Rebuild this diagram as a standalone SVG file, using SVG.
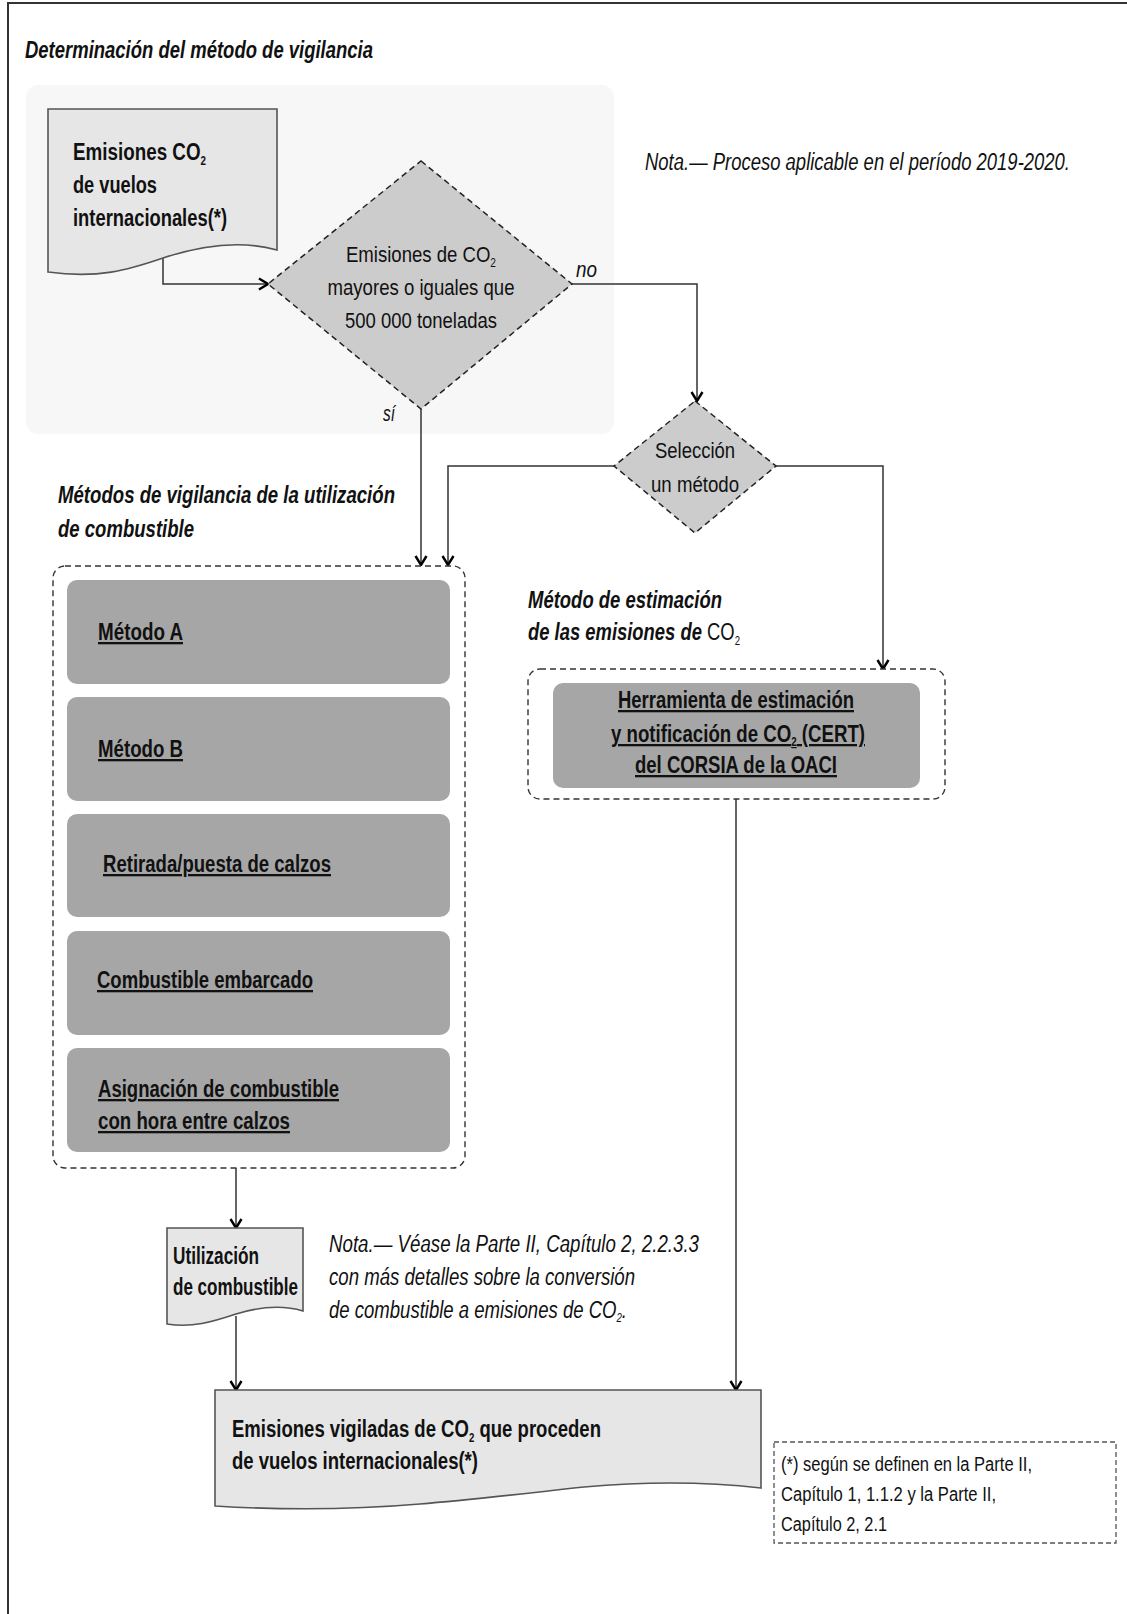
<svg xmlns="http://www.w3.org/2000/svg" width="1127" height="1614" viewBox="0 0 1127 1614">
<style>
text{font-family:"Liberation Sans Narrow","Liberation Sans",Arial,sans-serif;fill:#111;font-size:22px}
.b{font-weight:bold;font-size:23px}
.i{font-style:italic}
.u{text-decoration:underline}
.m{text-anchor:middle}
.t{font-size:23px}
.doc{fill:#e6e6e6;stroke:#555;stroke-width:1.6}
.dia{fill:#cccccc;stroke:#222;stroke-width:1.5;stroke-dasharray:6,4}
.box{fill:#a6a6a6}
.cont{fill:#fff;stroke:#333;stroke-width:1.4;stroke-dasharray:6,4}
.con{fill:none;stroke:#333;stroke-width:1.5;marker-end:url(#arr)}
.fn{font-size:20px}
.sub{font-size:12px}
</style>
<defs>
<marker id="arr" viewBox="-11 -7 13 14" refX="0" refY="0" markerWidth="13" markerHeight="14" markerUnits="userSpaceOnUse" orient="auto">
<path d="M-9,-5.5 L0,0 L-9,5.5" fill="none" stroke="#000" stroke-width="2.4"/>
</marker>
</defs>
<rect x="8" y="3" width="1130" height="1620" fill="#fff" stroke="#333" stroke-width="2"/>
<text class="b i" x="25" y="58" textLength="348" lengthAdjust="spacingAndGlyphs">Determinación del método de vigilancia</text>
<rect id="panel" x="26" y="85" width="588" height="349" rx="12" fill="#f7f7f7"/>
<text class="i t" x="645" y="170" textLength="425" lengthAdjust="spacingAndGlyphs">Nota.— Proceso aplicable en el período 2019-2020.</text>

<g id="connectors">
<path class="con" d="M163,258 V284 H268"/>
<path class="con" d="M572,284 H697 V401"/>
<path class="con" d="M421,409 V565"/>
<path class="con" d="M614,466 H448 V565"/>
<path class="con" d="M776,466 H883 V669"/>
<path class="con" d="M236,1168 V1228"/>
<path class="con" d="M236,1316 V1390"/>
<path class="con" d="M736,799 V1390"/>
</g>

<g id="doc1">
<path class="doc" d="M48,109 H277 V250 C245,241 205,244 163,258 C128,270 98,279 48,272 Z"/>
<text class="b" x="73" y="160" textLength="133" lengthAdjust="spacingAndGlyphs">Emisiones CO<tspan class="sub" dy="5">2</tspan></text>
<text class="b" x="73" y="193" textLength="84" lengthAdjust="spacingAndGlyphs">de vuelos</text>
<text class="b" x="73" y="226" textLength="154" lengthAdjust="spacingAndGlyphs">internacionales(*)</text>
</g>

<g id="diamond1">
<path class="dia" d="M421,161 L572,284 L421,409 L268,284 Z"/>
<text class="m" x="421" y="262" textLength="150" lengthAdjust="spacingAndGlyphs">Emisiones de CO<tspan class="sub" dy="5">2</tspan></text>
<text class="m" x="421" y="295" textLength="187" lengthAdjust="spacingAndGlyphs">mayores o iguales que</text>
<text class="m" x="421" y="328" textLength="152" lengthAdjust="spacingAndGlyphs">500 000 toneladas</text>
</g>
<text class="i" x="576" y="277" textLength="21" lengthAdjust="spacingAndGlyphs">no</text>
<text class="i" x="383" y="421" textLength="12" lengthAdjust="spacingAndGlyphs">sí</text>

<g id="diamond2">
<path class="dia" d="M695,401 L776,466 L695,533 L614,466 Z"/>
<text class="m" x="695" y="458" textLength="80" lengthAdjust="spacingAndGlyphs">Selección</text>
<text class="m" x="695" y="492" textLength="88" lengthAdjust="spacingAndGlyphs">un método</text>
</g>

<text class="b i" x="58" y="503" textLength="337" lengthAdjust="spacingAndGlyphs">Métodos de vigilancia de la utilización</text>
<text class="b i" x="58" y="537" textLength="136" lengthAdjust="spacingAndGlyphs">de combustible</text>

<g id="fuel-methods">
<rect class="cont" x="53" y="566" width="412" height="602" rx="12"/>
<g id="metodoA"><rect class="box" x="67" y="580" width="383" height="104" rx="10"/>
<text class="b u" x="98" y="640" textLength="85" lengthAdjust="spacingAndGlyphs">Método A</text></g>
<g id="metodoB"><rect class="box" x="67" y="697" width="383" height="104" rx="10"/>
<text class="b u" x="98" y="757" textLength="85" lengthAdjust="spacingAndGlyphs">Método B</text></g>
<g id="calzos"><rect class="box" x="67" y="814" width="383" height="103" rx="10"/>
<text class="b u" x="103" y="872" textLength="228" lengthAdjust="spacingAndGlyphs">Retirada/puesta de calzos</text></g>
<g id="embarcado"><rect class="box" x="67" y="931" width="383" height="104" rx="10"/>
<text class="b u" x="97" y="988" textLength="216" lengthAdjust="spacingAndGlyphs">Combustible embarcado</text></g>
<g id="asignacion"><rect class="box" x="67" y="1048" width="383" height="104" rx="10"/>
<text class="b u" x="98" y="1097" textLength="241" lengthAdjust="spacingAndGlyphs">Asignación de combustible</text>
<text class="b u" x="98" y="1129" textLength="192" lengthAdjust="spacingAndGlyphs">con hora entre calzos</text></g>
</g>

<text class="b i" x="528" y="608" textLength="194" lengthAdjust="spacingAndGlyphs">Método de estimación</text>
<text class="b i" x="528" y="640" textLength="212" lengthAdjust="spacingAndGlyphs">de las emisiones de <tspan font-weight="normal" font-style="normal">CO</tspan><tspan class="sub" font-weight="normal" font-style="normal" dy="5">2</tspan></text>

<g id="cert">
<rect class="cont" x="528" y="669" width="417" height="130" rx="12"/>
<rect class="box" x="553" y="683" width="367" height="105" rx="10"/>
<text class="b u m" x="736" y="708" textLength="236" lengthAdjust="spacingAndGlyphs">Herramienta de estimación</text>
<text class="b u m" x="738" y="742" textLength="254" lengthAdjust="spacingAndGlyphs">y notificación de CO<tspan class="sub" dy="4">2</tspan><tspan dy="-4"> (CERT) </tspan></text>
<text class="b u m" x="736" y="773" textLength="202" lengthAdjust="spacingAndGlyphs">del CORSIA de la OACI</text>
</g>

<g id="doc-utilizacion">
<path class="doc" d="M167,1228 H303 V1311 C283,1305 262,1306 236,1314 C212,1322 192,1328 167,1324 Z"/>
<text class="b" x="173" y="1264" textLength="86" lengthAdjust="spacingAndGlyphs">Utilización</text>
<text class="b" x="173" y="1295" textLength="125" lengthAdjust="spacingAndGlyphs">de combustible</text>
</g>

<g id="nota2">
<text class="i t" x="329" y="1252" textLength="370" lengthAdjust="spacingAndGlyphs">Nota.— Véase la Parte II, Capítulo 2, 2.2.3.3</text>
<text class="i t" x="329" y="1285" textLength="306" lengthAdjust="spacingAndGlyphs">con más detalles sobre la conversión</text>
<text class="i t" x="329" y="1318" textLength="298" lengthAdjust="spacingAndGlyphs">de combustible a emisiones de CO<tspan class="sub" dy="4">2</tspan><tspan dy="-4">.</tspan></text>
</g>

<g id="doc-final">
<path class="doc" d="M215,1390 H761 V1488 C700,1481 640,1482 584,1487 C520,1494 470,1500 420,1504 C350,1510 280,1510 215,1506 Z"/>
<text class="b" x="232" y="1437" textLength="369" lengthAdjust="spacingAndGlyphs">Emisiones vigiladas de CO<tspan class="sub" dy="5">2</tspan><tspan dy="-5"> que proceden</tspan></text>
<text class="b" x="232" y="1469" textLength="246" lengthAdjust="spacingAndGlyphs">de vuelos internacionales(*)</text>
</g>

<g id="footnote">
<rect x="774" y="1442" width="342" height="101" fill="none" stroke="#555" stroke-width="1.3" stroke-dasharray="5,3"/>
<text class="fn" x="781" y="1471" textLength="251" lengthAdjust="spacingAndGlyphs">(*) según se definen en la Parte II,</text>
<text class="fn" x="781" y="1501" textLength="215" lengthAdjust="spacingAndGlyphs">Capítulo 1, 1.1.2 y la Parte II,</text>
<text class="fn" x="781" y="1531" textLength="106" lengthAdjust="spacingAndGlyphs">Capítulo 2, 2.1</text>
</g>
</svg>
